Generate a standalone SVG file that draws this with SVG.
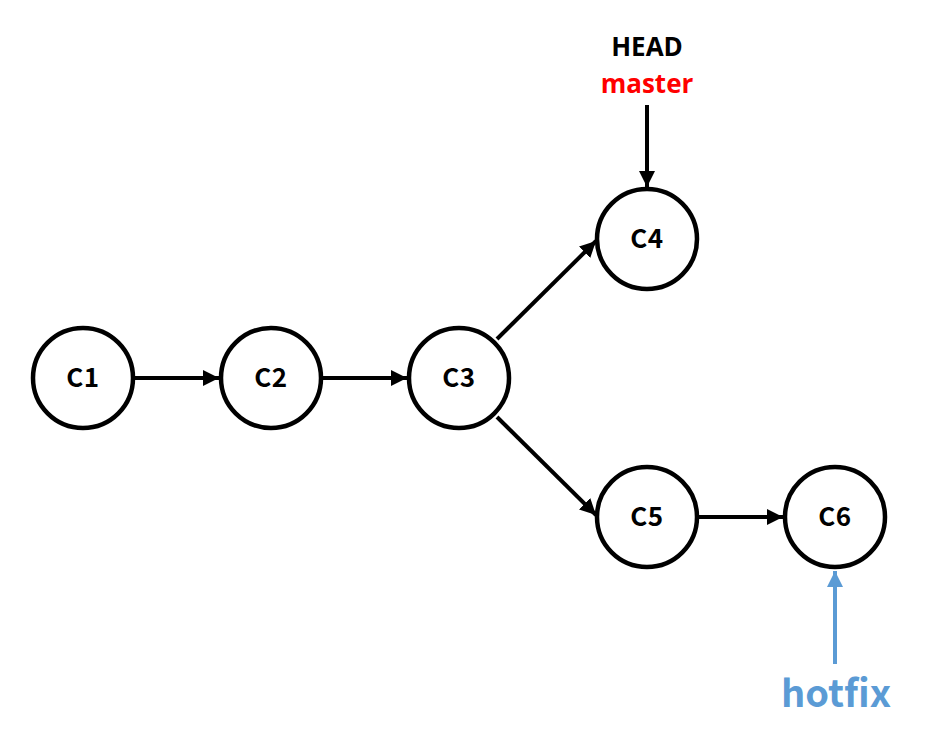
<svg xmlns="http://www.w3.org/2000/svg" width="934" height="745" viewBox="0 0 934 745">
<style>
.node circle{fill:#fff;stroke:#000;stroke-width:4.5}
.node text,.lbl{font-family:"Noto Sans CJK KR","Open Sans",sans-serif;font-weight:bold;text-anchor:middle}
.node text{font-size:26px;fill:#000;letter-spacing:0.5px}
.top{font-family:"Open Sans","Noto Sans",sans-serif;font-weight:bold;text-anchor:middle;font-size:26px}
.edge{stroke:#000;stroke-width:4;fill:none;marker-end:url(#ah)}
.blue{stroke:#5B9BD5;stroke-width:4;fill:none;marker-end:url(#ahb)}
</style>
<defs>
<marker id="ah" viewBox="0 0 10 10" refX="10" refY="5" markerWidth="4" markerHeight="4" markerUnits="strokeWidth" orient="auto"><path d="M0,0L10,5L0,10z" fill="#000"/></marker>
<marker id="ahb" viewBox="0 0 10 10" refX="10" refY="5" markerWidth="4" markerHeight="4" markerUnits="strokeWidth" orient="auto"><path d="M0,0L10,5L0,10z" fill="#5B9BD5"/></marker>
</defs>
<g id="connectors">
<line class="edge" x1="135" y1="378" x2="219" y2="378"/>
<line class="edge" x1="323" y1="378" x2="407" y2="378"/>
<line class="edge" x1="497" y1="339" x2="596" y2="241"/>
<line class="edge" x1="497" y1="417" x2="596" y2="515"/>
<line class="edge" x1="699" y1="517" x2="783" y2="517"/>
<line class="edge" x1="647" y1="105" x2="647" y2="187"/>
<line class="blue" x1="835" y1="664" x2="835" y2="571"/>
</g>
<g id="C1" class="node"><circle cx="83" cy="378" r="50"/><text x="83" y="387">C1</text></g>
<g id="C2" class="node"><circle cx="271" cy="378" r="50"/><text x="271" y="387">C2</text></g>
<g id="C3" class="node"><circle cx="459" cy="378" r="50"/><text x="459" y="387">C3</text></g>
<g id="C4" class="node"><circle cx="647" cy="239" r="50"/><text x="647" y="248">C4</text></g>
<g id="C5" class="node"><circle cx="647" cy="517" r="50"/><text x="647" y="526">C5</text></g>
<g id="C6" class="node"><circle cx="835" cy="517" r="50"/><text x="835" y="526">C6</text></g>
<g id="HEAD"><text class="top" x="647" y="56" fill="#000">HEAD</text></g>
<g id="master"><text class="top" x="647" y="93" fill="#FF0000">master</text></g>
<g id="hotfix"><text class="lbl" x="836" y="707" font-size="38" fill="#5B9BD5">hotfix</text></g>
</svg>
